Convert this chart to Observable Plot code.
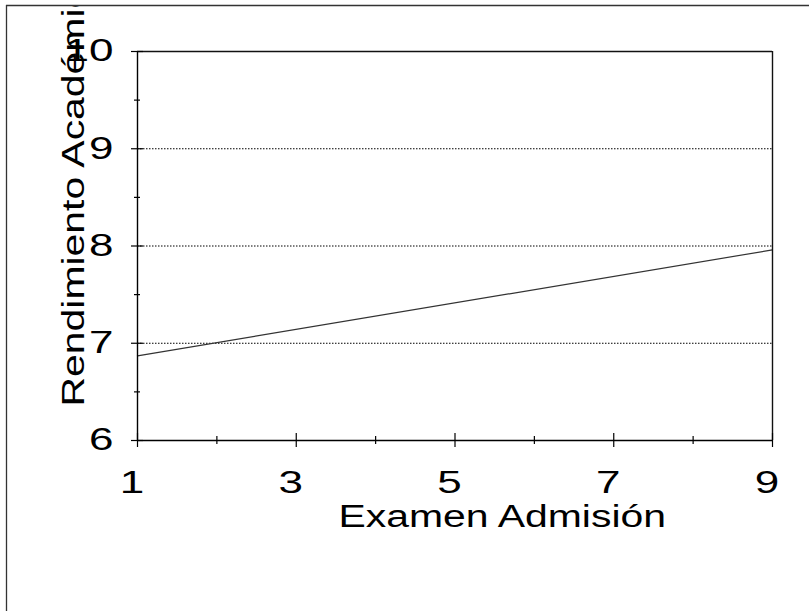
<!DOCTYPE html>
<html>
<head>
<meta charset="utf-8">
<script src="https://cdn.jsdelivr.net/npm/d3@7"></script>
<script src="https://cdn.jsdelivr.net/npm/@observablehq/plot@0.6"></script>
<style>
  html, body { margin: 0; padding: 0; background: #fff; }
</style>
</head>
<body>
<div id="chart"></div>
<script>
// Data
const xTicks = [1, 3, 5, 7, 9];
const xMinorTicks = [2, 4, 6, 8];
const yTicks = [6, 7, 8, 9, 10];
const yMinorTicks = [6.5, 7.5, 8.5, 9.5];
const gridValues = [7, 8, 9];
const lineX = [1, 9];
const lineY = [6.87, 7.96];
const xLabel = "Examen Admisión";
const yLabel = "Rendimiento Académico";

const fit = lineX.map((x, i) => ({x, y: lineY[i]}));

const chart = Plot.plot({
  width: 809,
  height: 611,
  marginLeft: 137,
  marginRight: 37,
  marginTop: 51,
  marginBottom: 171,
  x: {domain: [1, 9], axis: null},
  y: {domain: [6, 10], axis: null},
  style: {fontFamily: "'Liberation Sans', Arial, sans-serif", background: "#fff", color: "#000"},
  marks: [
    Plot.ruleY(gridValues, {y: d => d, x1: 1, x2: 9, stroke: "#000", strokeWidth: 1, strokeDasharray: "1.5,1.5"}),
    Plot.line(fit, {x: "x", y: "y", stroke: "#333", strokeWidth: 1.2}),
    // frame
    Plot.ruleX([9], {x: d => d, y1: 6, y2: 10, stroke: "#111", strokeWidth: 1.4}),
    Plot.ruleY([10], {y: d => d, x1: 1, x2: 9, stroke: "#111", strokeWidth: 1.4}),
    // axes
    Plot.ruleX([1], {x: d => d, y1: 6, y2: 10, stroke: "#000", strokeWidth: 1.4}),
    Plot.ruleY([6], {y: d => d, x1: 1, x2: 9, stroke: "#000", strokeWidth: 1.4}),
    // x ticks crossing the axis
    Plot.ruleX(xTicks, {x: d => d, y1: 6, y2: 6, insetTop: 7, insetBottom: 7, stroke: "#000", strokeWidth: 1.2}),
    Plot.ruleX(xMinorTicks, {x: d => d, y1: 6, y2: 6, insetTop: 4, insetBottom: 4, stroke: "#000", strokeWidth: 1.2}),
    // y ticks crossing the axis
    Plot.ruleY(yTicks, {y: d => d, x1: 1, x2: 1, insetLeft: 6, insetRight: 6, stroke: "#000", strokeWidth: 1.2}),
    Plot.ruleY(yMinorTicks, {y: d => d, x1: 1, x2: 1, insetLeft: 3, insetRight: 3, stroke: "#000", strokeWidth: 1.2}),
    // tick labels
    Plot.text(xTicks, {x: d => d, y: 6, text: d => String(d), dy: 52, dx: -5.5, lineAnchor: "bottom", fontSize: 31, fill: "#000", className: "ticklbl"}),
    Plot.text(yTicks, {x: 1, y: d => d, text: d => String(d), dx: -24, textAnchor: "end", lineAnchor: "middle", fontSize: 31, fill: "#000", className: "ticklbl"}),
    // axis labels
    Plot.text([xLabel], {frameAnchor: "bottom-left", text: d => d, dx: 201, dy: 86, textAnchor: "start", lineAnchor: "bottom", fontSize: 31, fill: "#000", className: "axlbl"}),
    Plot.text([yLabel], {frameAnchor: "bottom-left", text: d => d, dx: -54, dy: -34, rotate: -90, textAnchor: "start", lineAnchor: "bottom", fontSize: 31, fill: "#000", className: "axlbl"})
  ]
});

document.getElementById("chart").appendChild(chart);

// stretch glyphs along the baseline as in the reference rendering
function stretch(sel, f) {
  d3.select(chart).selectAll(sel).each(function () {
    const L = this.getComputedTextLength();
    this.setAttribute("textLength", L * f);
    this.setAttribute("lengthAdjust", "spacingAndGlyphs");
  });
}
stretch(".ticklbl text", 1.42);
stretch(".axlbl text", 1.32);

// outer border of the figure
const s = d3.select(chart);
s.append("rect").attr("x", 0).attr("y", 0).attr("width", 809).attr("height", 5).attr("fill", "#fff");
s.append("line").attr("x1", 6).attr("x2", 809).attr("y1", 5.5).attr("y2", 5.5).attr("stroke", "#333").attr("stroke-width", 1.3);
s.append("line").attr("x1", 6.5).attr("x2", 6.5).attr("y1", 5).attr("y2", 611).attr("stroke", "#333").attr("stroke-width", 1.3);
</script>
</body>
</html>
